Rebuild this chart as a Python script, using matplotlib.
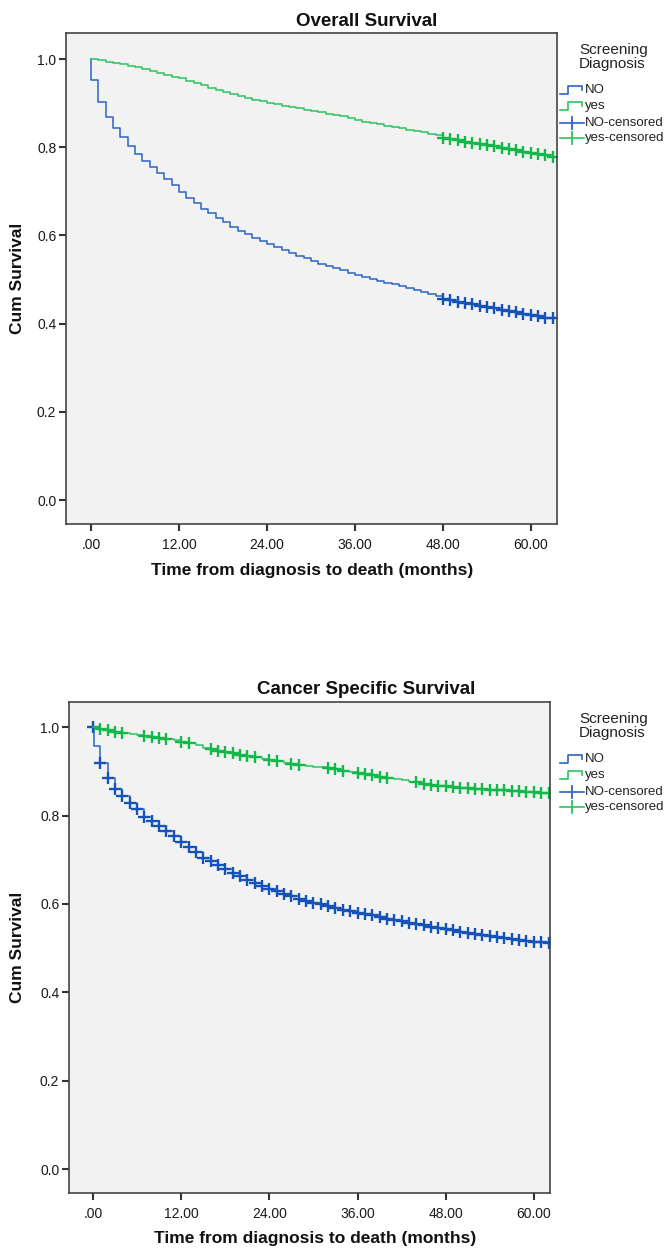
import numpy as np
import matplotlib
matplotlib.use("Agg")
import matplotlib.pyplot as plt
from matplotlib.lines import Line2D

plt.rcParams['font.family'] = ['Liberation Sans', 'DejaVu Sans']

# ---- data (survival after each monthly drop) ----
os_no_t = list(range(0, 64))
os_no_s = [0.952, 0.903, 0.868, 0.843, 0.824, 0.803, 0.785, 0.768, 0.756, 0.742,
           0.728, 0.714, 0.699, 0.686, 0.674, 0.661, 0.650, 0.639, 0.630, 0.620,
           0.611, 0.603, 0.595, 0.587, 0.580, 0.573, 0.566, 0.560, 0.554, 0.548,
           0.542, 0.536, 0.531, 0.526, 0.521, 0.516, 0.511, 0.506, 0.502, 0.497,
           0.493, 0.489, 0.485, 0.481, 0.477, 0.472, 0.468, 0.462, 0.456, 0.453,
           0.450, 0.447, 0.444, 0.441, 0.438, 0.435, 0.432, 0.429, 0.426, 0.423,
           0.420, 0.417, 0.414, 0.412]
os_yes_t = list(range(1, 64))
os_yes_s = [0.997, 0.994, 0.991, 0.988, 0.985, 0.982, 0.978, 0.972, 0.968,
            0.964, 0.960, 0.956, 0.951, 0.945, 0.940, 0.934, 0.929, 0.925, 0.920,
            0.916, 0.912, 0.908, 0.904, 0.900, 0.897, 0.894, 0.891, 0.888, 0.885,
            0.882, 0.879, 0.876, 0.873, 0.870, 0.867, 0.862, 0.858, 0.855, 0.852,
            0.849, 0.846, 0.843, 0.840, 0.837, 0.834, 0.831, 0.828, 0.822, 0.819,
            0.816, 0.813, 0.810, 0.808, 0.805, 0.802, 0.799, 0.796, 0.793, 0.790,
            0.787, 0.784, 0.782, 0.779]
os_end = 63.4
os_no_cens = [48, 49, 50, 51, 52, 53, 54, 55, 56, 57, 58, 59, 60, 61, 62, 63]
os_yes_cens = [48, 49, 50, 51, 52, 53, 54, 55, 56, 57, 58, 59, 60, 61, 62, 63]

css_no_t = [0.1] + list(range(1, 63))
css_no_s = [0.958, 0.918, 0.886, 0.861, 0.845, 0.829, 0.814, 0.797, 0.787, 0.777,
            0.765, 0.753, 0.741, 0.729, 0.718, 0.705, 0.697, 0.688, 0.679, 0.671,
            0.663, 0.655, 0.648, 0.641, 0.635, 0.629, 0.623, 0.617, 0.612, 0.607,
            0.603, 0.599, 0.595, 0.591, 0.587, 0.583, 0.580, 0.577, 0.574, 0.570,
            0.567, 0.564, 0.561, 0.558, 0.555, 0.552, 0.549, 0.546, 0.543, 0.540,
            0.537, 0.535, 0.532, 0.530, 0.527, 0.525, 0.523, 0.521, 0.519, 0.517,
            0.515, 0.513, 0.512]
css_yes_t = list(range(1, 63))
css_yes_s = [0.996, 0.993, 0.990, 0.987, 0.985, 0.982, 0.979, 0.977, 0.975,
             0.973, 0.970, 0.967, 0.964, 0.959, 0.954, 0.950, 0.947, 0.944, 0.941,
             0.938, 0.935, 0.932, 0.929, 0.926, 0.923, 0.920, 0.917, 0.915, 0.913,
             0.911, 0.909, 0.907, 0.905, 0.902, 0.899, 0.897, 0.894, 0.891, 0.888,
             0.886, 0.883, 0.880, 0.877, 0.875, 0.872, 0.870, 0.868, 0.866, 0.864,
             0.863, 0.862, 0.861, 0.860, 0.859, 0.858, 0.857, 0.856, 0.855, 0.854,
             0.853, 0.852, 0.851]
css_end = 62.2
css_no_cens = list(range(0, 63))
css_yes_cens = [1, 2, 3, 4, 7, 8, 9, 10, 12, 13, 16, 17, 18, 19, 20, 21, 22, 24, 25,
                27, 28, 32, 33, 34, 36, 37, 38, 39, 40, 44, 45, 46, 47, 48, 49, 50,
                51, 52, 53, 54, 55, 56, 57, 58, 59, 60, 61, 62]

xticks = [0, 12, 24, 36, 48, 60]
xtick_labels = [".00", "12.00", "24.00", "36.00", "48.00", "60.00"]
yticks = [0.0, 0.2, 0.4, 0.6, 0.8, 1.0]
legend_labels = ["NO", "yes", "NO-censored", "yes-censored"]

BLUE = "#2a63c6"
BLUE_DK = "#1553b8"
GREEN = "#2cc45c"
GREEN_DK = "#12b84a"

W, H = 670, 1249
fig = plt.figure(figsize=(W / 100, H / 100), dpi=100)


def fx(px):
    return px / W


def fy(py):
    return 1 - py / H


def surv_at(t, drop_t, drop_s):
    idx = np.searchsorted(drop_t, t, side='right')
    return np.r_[1.0, drop_s][idx]


def km(ax, drop_t, drop_s, end, cens, col, col_dk):
    tt = np.r_[0.0, drop_t, end]
    ss = np.r_[1.0, drop_s, drop_s[-1]]
    ax.step(tt, ss, where='post', color=col, lw=1.1)
    ax.plot(cens, surv_at(cens, drop_t, drop_s), ls='none', marker='+',
            ms=8, mew=1.7, color=col_dk)


def panel(box, xlim, ylim, title, title_xy, xlab_xy, data):
    l, t, r, b = box
    ax = fig.add_axes([fx(l), fy(b), fx(r - l), (b - t) / H])
    ax.set_facecolor("#f2f2f2")
    for s in ax.spines.values():
        s.set_color("#444444")
        s.set_linewidth(1.2)
    for d in data:
        km(ax, *d)
    ax.set_xlim(*xlim)
    ax.set_ylim(*ylim)
    ax.set_xticks(xticks)
    ax.set_xticklabels(xtick_labels)
    ax.set_yticks(yticks)
    ax.set_yticklabels([f"{v:.1f}" for v in yticks])
    ax.tick_params(direction='out', length=5, width=1.5, color="#333333",
                   labelsize=10, pad=2, labelcolor="#1a1a1a")
    ax.tick_params(axis='x', pad=5)
    fig.text(fx(title_xy[0]), fy(title_xy[1]), title, ha='center', va='center',
             fontsize=13.5, fontweight='bold', color="#111111")
    fig.text(fx(xlab_xy[0]), fy(xlab_xy[1]), "Time from diagnosis to death (months)",
             ha='center', va='center', fontsize=12.5, fontweight='bold', color="#111111")
    fig.text(fx(18), fy((t + b) / 2), "Cum Survival", rotation=90, ha='center',
             va='center', fontsize=12.5, fontweight='bold', color="#111111")
    # legend drawn in figure space
    fig.text(fx(579), fy(t + 24), "Screening\nDiagnosis", ha='left', va='center',
             fontsize=11, linespacing=0.95, color="#222222")
    ys = [t + 57, t + 73, t + 90, t + 105]
    cols = [BLUE, GREEN, BLUE, GREEN]
    for i, (lab, y, c) in enumerate(zip(legend_labels, ys, cols)):
        if i < 2:
            px = [560, 568, 568, 582, 582]
            py = [y + 4, y + 4, y - 4, y - 4, y]
            fig.add_artist(Line2D([fx(p) for p in px], [fy(p) for p in py],
                                  color=c, lw=1.2))
        else:
            fig.add_artist(Line2D([fx(560), fx(584)], [fy(y), fy(y)], color=c, lw=1.2))
            fig.add_artist(Line2D([fx(572), fx(572)], [fy(y - 6), fy(y + 6)],
                                  color=c, lw=1.3))
        fig.text(fx(585), fy(y), lab, ha='left', va='center', fontsize=9.5,
                 color="#222222")
    return ax


panel((66, 33, 557, 524), (-3.41, 63.57), (-0.054, 1.059), "Overall Survival",
      (367, 21), (312, 570),
      [(os_no_t, os_no_s, os_end, os_no_cens, BLUE, BLUE_DK),
       (os_yes_t, os_yes_s, os_end, os_yes_cens, GREEN, GREEN_DK)])

panel((69, 702, 550, 1193), (-3.27, 62.2), (-0.054, 1.057), "Cancer Specific Survival",
      (366, 690), (315, 1238),
      [(css_no_t, css_no_s, css_end, css_no_cens, BLUE, BLUE_DK),
       (css_yes_t, css_yes_s, css_end, css_yes_cens, GREEN, GREEN_DK)])

fig.savefig("out.png", dpi=100)
